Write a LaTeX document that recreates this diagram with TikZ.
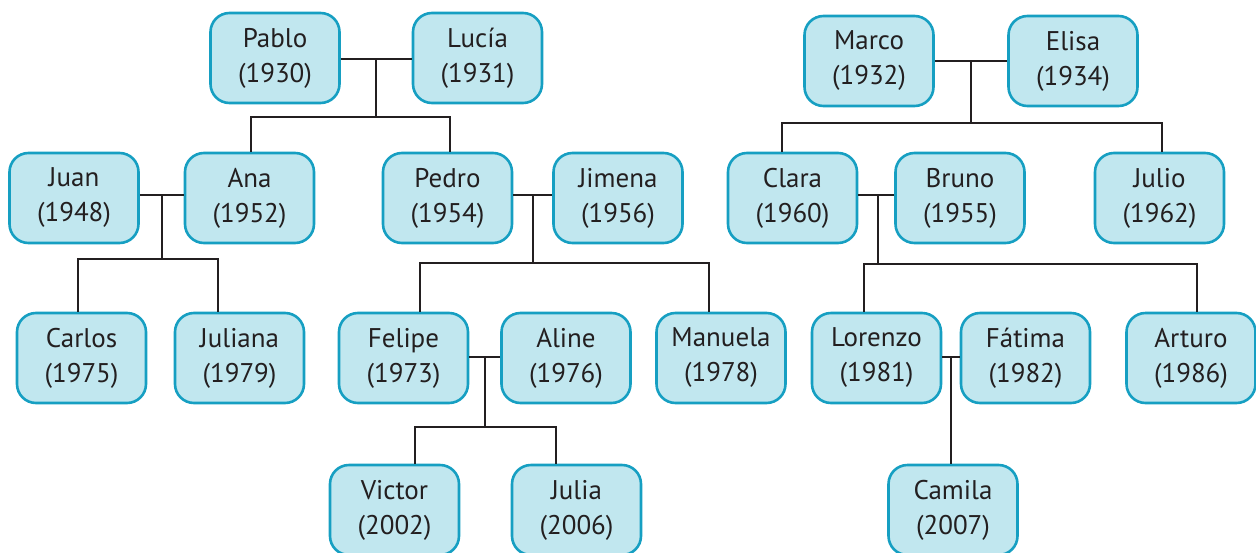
\documentclass[tikz,border=0pt]{standalone}
\usepackage{fontspec}
\setmainfont{PT Sans}
\usetikzlibrary{calc}
\definecolor{boxfill}{HTML}{C1E7EF}
\definecolor{boxline}{HTML}{169FC2}
\definecolor{ink}{HTML}{231F20}
\begin{document}
\begin{tikzpicture}[x=1pt,y=-1pt,
  person/.style={draw=boxline, fill=boxfill, line width=2.6pt, rounded corners=19pt,
    minimum width=129pt, minimum height=90pt, align=center, inner sep=0pt,
    font=\fontsize{27}{35}\selectfont, text=ink},
  link/.style={draw=ink, line width=2.4pt}]
\useasboundingbox (0,0) rectangle (1256,552);

% generation 1
\node[person] (pablo) at (275,58) {Pablo\\(1930)};
\node[person] (lucia) at (477.5,58) {Lucía\\(1931)};
\node[person] (marco) at (869,61) {Marco\\(1932)};
\node[person] (elisa) at (1073,61) {Elisa\\(1934)};
% generation 2
\node[person] (juan) at (74,198) {Juan\\(1948)};
\node[person] (ana) at (249.5,198) {Ana\\(1952)};
\node[person] (pedro) at (447.5,198) {Pedro\\(1954)};
\node[person] (jimena) at (618,198) {Jimena\\(1956)};
\node[person] (clara) at (792.5,198) {Clara\\(1960)};
\node[person] (bruno) at (960,198) {Bruno\\(1955)};
\node[person] (julio) at (1159.5,198) {Julio\\(1962)};
% generation 3
\node[person] (carlos) at (81.5,358) {Carlos\\(1975)};
\node[person] (juliana) at (239.5,358) {Juliana\\(1979)};
\node[person] (felipe) at (403.5,358) {Felipe\\(1973)};
\node[person] (aline) at (566,358) {Aline\\(1976)};
\node[person] (manuela) at (721,358) {Manuela\\(1978)};
\node[person] (lorenzo) at (876.5,358) {Lorenzo\\(1981)};
\node[person] (fatima) at (1025.5,358) {Fátima\\(1982)};
\node[person] (arturo) at (1191,358) {Arturo\\(1986)};
% generation 4
\node[person] (victor) at (394.5,510) {Victor\\(2002)};
\node[person] (julia) at (576.5,510) {Julia\\(2006)};
\node[person] (camila) at (953,510) {Camila\\(2007)};

% Pablo + Lucia
\draw[link] ([yshift=-1]pablo.east) -- ([yshift=-1]lucia.west);
\coordinate (m1) at ($([yshift=-1]pablo.east)!0.5!([yshift=-1]lucia.west)$);
\draw[link] (m1) -- (m1 |- 0,118);
\draw[link] ([xshift=1.5]ana.north) -- ++(0,-35) -| ([xshift=2.5]pedro.north);

% Juan + Ana
\draw[link] ([yshift=3]juan.east) -- ([yshift=3]ana.west);
\coordinate (m2) at ($([yshift=3]juan.east)!0.5!([yshift=3]ana.west)$);
\draw[link] (m2) -- (m2 |- 0,260);
\draw[link] ([xshift=-3.5]carlos.north) -- ++(0,-53) -| ([xshift=-21.5]juliana.north);

% Pedro + Jimena
\draw[link] ([yshift=3]pedro.east) -- ([yshift=3]jimena.west);
\coordinate (m3) at ($([yshift=3]pedro.east)!0.5!([yshift=3]jimena.west)$);
\draw[link] (m3) -- (m3 |- 0,264);
\draw[link] ([xshift=16.5]felipe.north) -- ++(0,-49) -| ([xshift=-12]manuela.north);

% Felipe + Aline
\draw[link] ([yshift=1]felipe.east) -- ([yshift=1]aline.west);
\coordinate (m4) at ($([yshift=1]felipe.east)!0.5!([yshift=1]aline.west)$);
\draw[link] (m4) -- (m4 |- 0,428);
\draw[link] ([xshift=20.5]victor.north) -- ++(0,-37) -| ([xshift=-20.5]julia.north);

% Marco + Elisa
\draw[link] (marco.east) -- (elisa.west);
\coordinate (m5) at ($(marco.east)!0.5!(elisa.west)$);
\draw[link] (m5) -- (m5 |- 0,124);
\draw[link] ([xshift=-10.5]clara.north) -- ++(0,-29) -| ([xshift=2.5]julio.north);

% Clara + Bruno
\draw[link] ([yshift=3]clara.east) -- ([yshift=3]bruno.west);
\coordinate (m6) at ($([yshift=3]clara.east)!0.55!([yshift=3]bruno.west)$);
\draw[link] (m6) -- (m6 |- 0,265);
\draw[link] ([xshift=-12.5]lorenzo.north) -- ++(0,-48) -| ([xshift=6]arturo.north);

% Lorenzo + Fatima
\draw[link] ([yshift=1]lorenzo.east) -- ([yshift=1]fatima.west);
\coordinate (m7) at ($([yshift=1]lorenzo.east)!0.5!([yshift=1]fatima.west)$);
\draw[link] (m7) -- (m7 |- camila.north);
\end{tikzpicture}
\end{document}
